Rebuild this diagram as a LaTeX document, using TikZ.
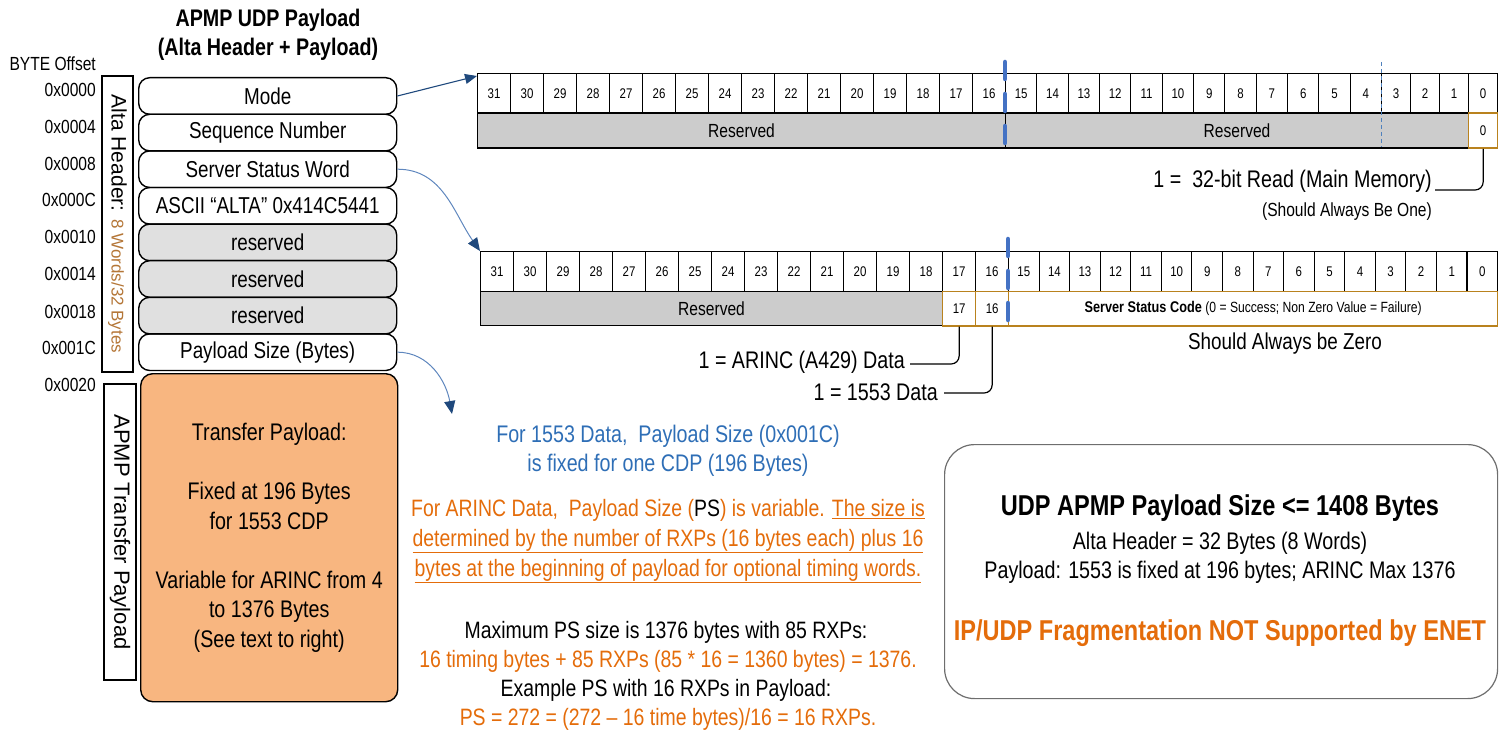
\documentclass[tikz,border=0pt]{standalone}
\usepackage{fontspec}
\setmainfont{Liberation Sans}[FakeStretch=0.82]
\newfontfamily\widefont{Liberation Sans}
\usetikzlibrary{arrows.meta}
\newcommand\fsz[2]{\fontsize{#1}{#2}\selectfont}
\definecolor{arrowblue}{RGB}{31,73,125}
\definecolor{linkblue}{RGB}{95,135,190}
\definecolor{splitblue}{RGB}{68,114,196}
\definecolor{dashblue}{RGB}{79,129,189}
\definecolor{txtblue}{RGB}{46,110,182}
\definecolor{orangetxt}{RGB}{228,108,10}
\definecolor{brownc}{RGB}{180,118,55}
\definecolor{goldb}{RGB}{185,130,30}
\definecolor{peach}{RGB}{248,182,128}
\definecolor{rowgray}{RGB}{224,224,224}
\definecolor{reggray}{RGB}{204,204,204}
\definecolor{boxgray}{RGB}{110,110,110}
\begin{document}
\begin{tikzpicture}[x=1pt,y=-1pt,
  hrow/.style={draw, line width=1.4pt, rounded corners=11pt, minimum width=258pt,
    minimum height=36.6pt, inner sep=0pt, anchor=north west, font=\fsz{23}{23}},
  grayrow/.style={hrow, fill=rowgray},
  offs/.style={anchor=east, inner sep=0pt, font=\fsz{19}{19}},
  bitcell/.style={draw, line width=1.1pt, minimum height=39.5pt, inner sep=0pt,
    anchor=north west, font=\fsz{14}{14}},
  resfield/.style={draw, line width=1.1pt, fill=reggray, inner sep=0pt,
    anchor=north west, font=\fsz{19}{19}},
  goldcell/.style={draw=goldb, line width=1.3pt, fill=white, inner sep=0pt,
    anchor=north west, font=\fsz{14}{14}},
  splitline/.style={draw=splitblue, line width=4.5pt, line cap=round, dash pattern=on 17pt off 15pt},
  thindash/.style={draw=dashblue, line width=0.9pt, dash pattern=on 4pt off 3pt},
  leader/.style={draw, line width=1.2pt, rounded corners=8pt},
  modearrow/.style={draw=arrowblue, line width=1.1pt, -{Triangle[length=12pt,width=10pt]}},
  curvearrow/.style={draw=linkblue, line width=1.0pt, -{Triangle[length=13pt,width=11pt,color=arrowblue]}},
  plain/.style={inner sep=0pt, font=\fsz{24}{24}}
]
\useasboundingbox (0,0) rectangle (1505,730);

% ---------- title and offsets ----------
\node[inner sep=0pt, font=\bfseries\fsz{24}{29}, align=center] (title) at (268,35)
  {APMP UDP Payload\\(Alta Header + Payload)};
\node[offs] (bo) at (96,64) {BYTE Offset};
\node[offs] (o0) at (96,90) {0x0000};
\node[offs] (o1) at (96,127) {0x0004};
\node[offs] (o2) at (96,164) {0x0008};
\node[offs] (o3) at (96,200) {0x000C};
\node[offs] (o4) at (96,237) {0x0010};
\node[offs] (o5) at (96,274) {0x0014};
\node[offs] (o6) at (96,312) {0x0018};
\node[offs] (o7) at (96,348) {0x001C};
\node[offs] (o8) at (96,385) {0x0020};

% ---------- side labels ----------
\node[draw, line width=1.3pt, rotate=-90, minimum width=296pt, minimum height=31pt, inner sep=0pt]
  (ahdr) at (117.5,224) {\widefont\fsz{21}{21}Alta Header: \textcolor{brownc}{\fsz{17}{17}8 Words/32 Bytes}};
\node[draw, line width=1.3pt, rotate=-90, minimum width=296pt, minimum height=32pt, inner sep=0pt]
  (atp) at (120,532) {\widefont\fsz{22}{22}APMP Transfer Payload};

% ---------- header rows ----------
\node[hrow]     (r1) at (138,77)            {Mode};
\node[hrow]     (r2) at (138,77+36.6)       {Sequence Number};
\node[hrow]     (r3) at (138,77+2*36.6)     {Server Status Word};
\node[hrow]     (r4) at (138,77+3*36.6)     {ASCII “ALTA” 0x414C5441};
\node[grayrow]  (r5) at (138,77+4*36.6)     {reserved};
\node[grayrow]  (r6) at (138,77+5*36.6)     {reserved};
\node[grayrow]  (r7) at (138,77+6*36.6)     {reserved};
\node[hrow]     (r8) at (138,77+7*36.6)     {Payload Size (Bytes)};
\node[draw, line width=1.4pt, fill=peach, rounded corners=12pt, minimum width=257pt,
  minimum height=328pt, inner sep=0pt, anchor=north west, align=center, font=\fsz{24}{29.5}]
  (pl) at (140,373)
  {Transfer Payload:\\[29.5pt]Fixed at 196 Bytes\\for 1553 CDP\\[29.5pt]Variable for ARINC from 4\\to 1376 Bytes\\(See text to right)};

% ---------- top register (Mode) ----------
\foreach \i in {0,...,15}{
  \pgfmathtruncatemacro\b{31-\i}
  \node[bitcell, minimum width=33pt] (a\b) at (477+33*\i,73) {\b};
}
\foreach \i in {0,...,11}{
  \pgfmathtruncatemacro\b{15-\i}
  \node[bitcell, minimum width=31.333pt] (a\b) at (1005+31.333*\i,73) {\b};
}
\foreach \i in {0,...,3}{
  \pgfmathtruncatemacro\b{3-\i}
  \node[bitcell, minimum width=29pt] (a\b) at (1381+29*\i,73) {\b};
}
\node[resfield, minimum width=528pt, minimum height=35pt] (ar1) at (477,112.5) {Reserved};
\node[resfield, minimum width=463pt, minimum height=35pt] (ar2) at (1005,112.5) {Reserved};
\node[goldcell, minimum width=29pt, minimum height=35pt] (az) at (1468,112.5) {0};
\draw[thindash] (1381,62) -- (1381,147.5);
\draw[splitline] (1005,62) -- (1005,148);

\node[plain, anchor=east] (ann1) at (1432,181) {1 =\ \ 32-bit Read (Main Memory)};
\node[inner sep=0pt, anchor=east, font=\fsz{19}{19}] (ann1b) at (1432,212) {(Should Always Be One)};
\coordinate (l1) at (1435,190);
\draw[leader] (az.south) |- (l1);

% ---------- second register (Server Status Word) ----------
\foreach \i in {0,...,15}{
  \pgfmathtruncatemacro\b{31-\i}
  \node[bitcell, minimum width=33pt, minimum height=39.7pt] (b\b) at (480+33*\i,251) {\b};
}
\foreach \i in {0,...,15}{
  \pgfmathtruncatemacro\b{15-\i}
  \node[bitcell, minimum width=30.5625pt, minimum height=39.7pt] (b\b) at (1008+30.5625*\i,251) {\b};
}
\node[resfield, minimum width=462pt, minimum height=34.5pt] (br) at (480,290.7) {Reserved};
\node[goldcell, minimum width=33pt, minimum height=34.5pt] (c17) at (942,290.7) {17};
\node[goldcell, minimum width=33pt, minimum height=34.5pt] (c16) at (975,290.7) {16};
\node[goldcell, minimum width=489pt, minimum height=34.5pt] (ssc) at (1008,290.7)
  {\bfseries\fsz{15.5}{15.5}Server Status Code {\mdseries\fsz{14.8}{14.8}(0 = Success; Non Zero Value = Failure)}};
\draw[splitline] (1008,239) -- (1008,325);

\node[plain, anchor=east] (ann17) at (905,362) {1 = ARINC (A429) Data};
\node[plain, anchor=east] (ann16) at (938,392) {1 = 1553 Data};
\coordinate (l17) at (910,364);
\coordinate (l16) at (944,393);
\draw[leader] (c17.south) |- (l17);
\draw[leader] (c16.south) |- (l16);
\node[plain, font=\fsz{23}{23}] (zero) at (1285,344) {Should Always be Zero};

% ---------- connectors from header rows ----------
\draw[modearrow] (r1.east) -- (477,76);
\draw[curvearrow] (r3.east) to[out=0, in=125] (b31.north west);
\coordinate (pst) at (452,414);
\draw[curvearrow] (r8.east) to[out=0, in=100] (pst);

% ---------- middle text ----------
\node[inner sep=0pt, align=center, text=txtblue, font=\fsz{24}{29.5}] (t1553) at (668,451)
  {For 1553 Data,\ \ Payload Size (0x001C)\\is fixed for one CDP (196 Bytes)};
\node[inner sep=0pt, align=center, text=orangetxt, font=\fsz{23.7}{30}] (tarinc) at (668,541)
  {For ARINC Data,\ \ Payload Size (\textcolor{black}{PS}) is variable. \underline{The size is}\\
   \underline{determined by the number of RXPs (16 bytes each) plus 16}\\
   \underline{bytes at the beginning of payload for optional timing words.}};
\node[inner sep=0pt, font=\fsz{23.7}{23.7}] (tmax) at (666,632) {Maximum PS size is 1376 bytes with 85 RXPs:};
\node[inner sep=0pt, text=orangetxt, font=\fsz{23.7}{23.7}] (ttim) at (668,661) {16 timing bytes + 85 RXPs (85 * 16 = 1360 bytes) = 1376.};
\node[inner sep=0pt, font=\fsz{23.7}{23.7}] (tex) at (666,690) {Example PS with 16 RXPs in Payload:};
\node[inner sep=0pt, text=orangetxt, font=\fsz{23.7}{23.7}] (tps) at (668,719) {PS = 272 = (272 – 16 time bytes)/16 = 16 RXPs.};

% ---------- summary box ----------
\node[draw=boxgray, line width=1.2pt, rounded corners=30pt, minimum width=553pt,
  minimum height=254pt, inner sep=0pt, anchor=north west] (sum) at (944,444) {};
\node[inner sep=0pt, font=\bfseries\fsz{28.7}{28.7}] (s1) at (1220,508) {UDP APMP Payload Size <= 1408 Bytes};
\node[inner sep=0pt, font=\fsz{24}{24}] (s2) at (1220,543) {Alta Header = 32 Bytes (8 Words)};
\node[inner sep=0pt, font=\fsz{24}{24}] (s3) at (1220,572) {Payload: 1553 is fixed at 196 bytes; ARINC Max 1376};
\node[inner sep=0pt, text=orangetxt, font=\bfseries\fsz{28.7}{28.7}] (s4) at (1220,633) {IP/UDP Fragmentation NOT Supported by ENET};
\end{tikzpicture}
\end{document}
